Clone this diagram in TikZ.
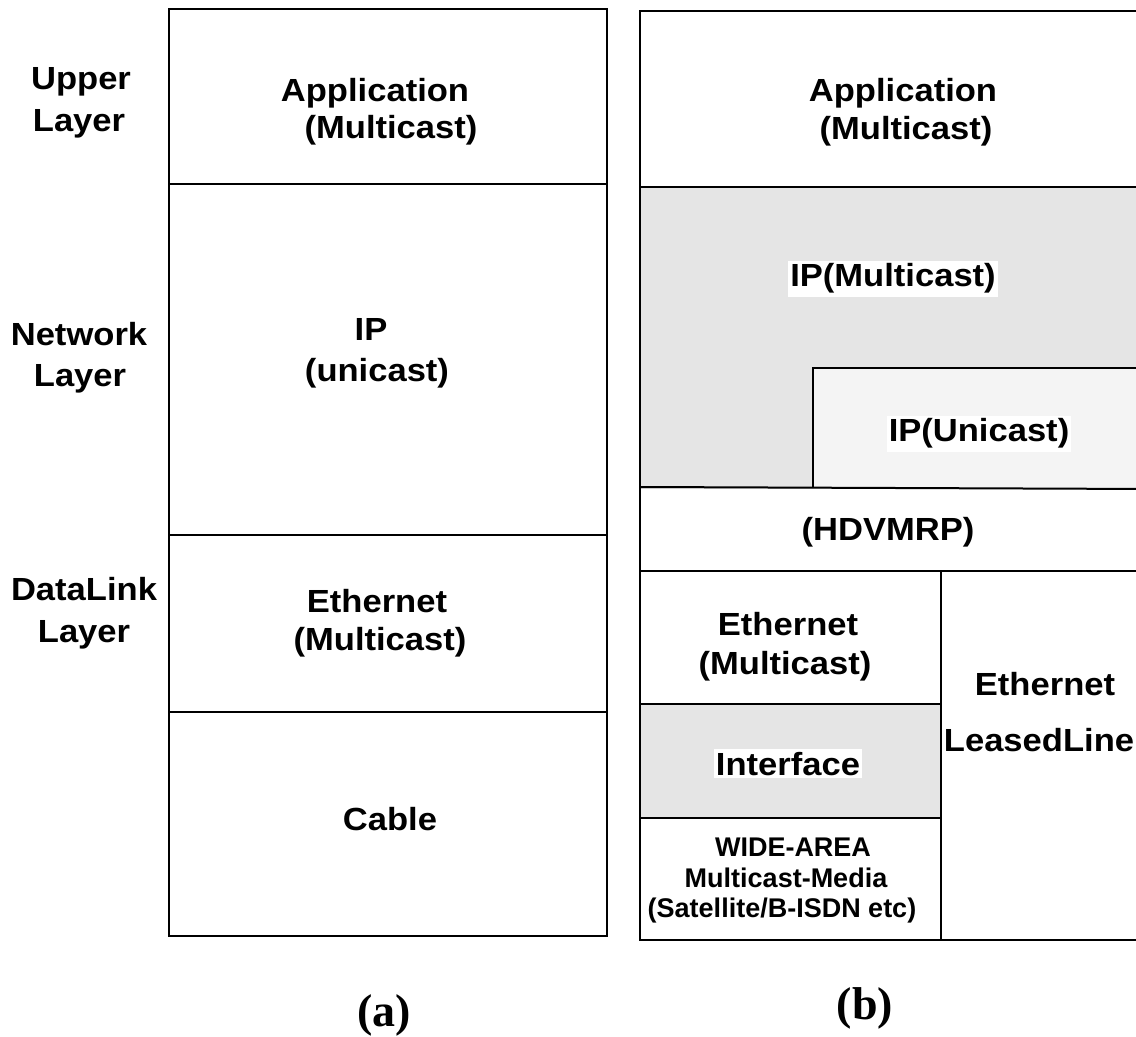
\documentclass[tikz,border=0pt]{standalone}
\usepackage{fontspec}
\setmainfont{Liberation Sans}[FakeStretch=1.08]
\newfontfamily\smallsans{Liberation Sans}
\newfontfamily\capserif{Liberation Serif}
\definecolor{ipmgray}{HTML}{E5E5E5}
\definecolor{ipugray}{HTML}{F4F4F4}
\definecolor{ifgray}{HTML}{E5E5E5}
\begin{document}
\begin{tikzpicture}[x=0.5pt,y=-0.5pt,
  frame/.style={draw=black,line width=1pt},
  txt/.style={anchor=base,inner sep=0pt,font=\fontsize{16}{21}\selectfont\bfseries},
  hl/.style={txt,fill=white,inner xsep=1pt,inner ysep=1.5pt},
  small/.style={anchor=base,inner sep=0pt,font=\smallsans\fontsize{13.5}{15.5}\selectfont\bfseries},
  figcap/.style={anchor=base,inner sep=0pt,font=\capserif\fontsize{23}{26}\selectfont\bfseries}]
\path[use as bounding box,clip] (0,0) rectangle (1136,1037);

% ---- stack (a)
\draw[frame] (169,9) rectangle (607,936);
\draw[frame] (169,184) -- (607,184);
\draw[frame] (169,535) -- (607,535);
\draw[frame] (169,712) -- (607,712);

% ---- layer names
\node[txt] (up1) at (81,90) {Upper};
\node[txt] (up2) at (79,132) {Layer};
\node[txt] (nw1) at (79,346) {Network};
\node[txt] (nw2) at (80,387) {Layer};
\node[txt] (dl1) at (84,601) {DataLink};
\node[txt] (dl2) at (84,642) {Layer};

% ---- labels of stack (a)
\node[txt] (aapp1) at (375,102) {Application};
\node[txt] (aapp2) at (391,139) {(Multicast)};
\node[txt] (aip1) at (371,341) {IP};
\node[txt] (aip2) at (377,382) {(unicast)};
\node[txt] (aeth1) at (377,613) {Ethernet};
\node[txt] (aeth2) at (380,651) {(Multicast)};
\node[txt] (acab) at (390,830) {Cable};

% ---- stack (b)
\fill[ipmgray] (640,187) rectangle (1150,489);
\fill[ipugray] (813,487) -- (813,368) -- (1150,368) -- (1150,489) -- cycle;
\draw[frame] (813,487) -- (813,368) -- (1150,368);
\fill[ifgray] (640,704) rectangle (941,818);
\draw[frame] (640,11) rectangle (1150,940);
\draw[frame] (640,187) -- (1150,187);
\draw[frame] (640,487) -- (1150,489);
\draw[frame] (640,571) -- (1150,571);
\draw[frame] (941,571) -- (941,940);
\draw[frame] (640,704) -- (941,704);
\draw[frame] (640,818) -- (941,818);

% ---- labels of stack (b)
\node[txt] (bapp1) at (903,102) {Application};
\node[txt] (bapp2) at (906,140) {(Multicast)};
\node[hl] (bipm) at (893,287) {IP(Multicast)};
\node[hl] (bipu) at (979,442) {IP(Unicast)};
\node[txt] (bhdv) at (888,541) {(HDVMRP)};
\node[txt] (beth1) at (788,636) {Ethernet};
\node[txt] (beth2) at (785,675) {(Multicast)};
\node[hl] (bif) at (788,775) {Interface};
\node[txt] (bll1) at (1045,695) {Ethernet};
\node[txt] (bll2) at (1039,751) {LeasedLine};
\node[small] (bwa1) at (793,856) {WIDE-AREA};
\node[small] (bwa2) at (786,887) {Multicast-Media};
\node[small] (bwa3) at (782,917) {(Satellite/B-ISDN etc)};

% ---- captions
\node[figcap] (capa) at (384,1026) {(a)};
\node[figcap] (capb) at (865,1019) {(b)};
\end{tikzpicture}
\end{document}
